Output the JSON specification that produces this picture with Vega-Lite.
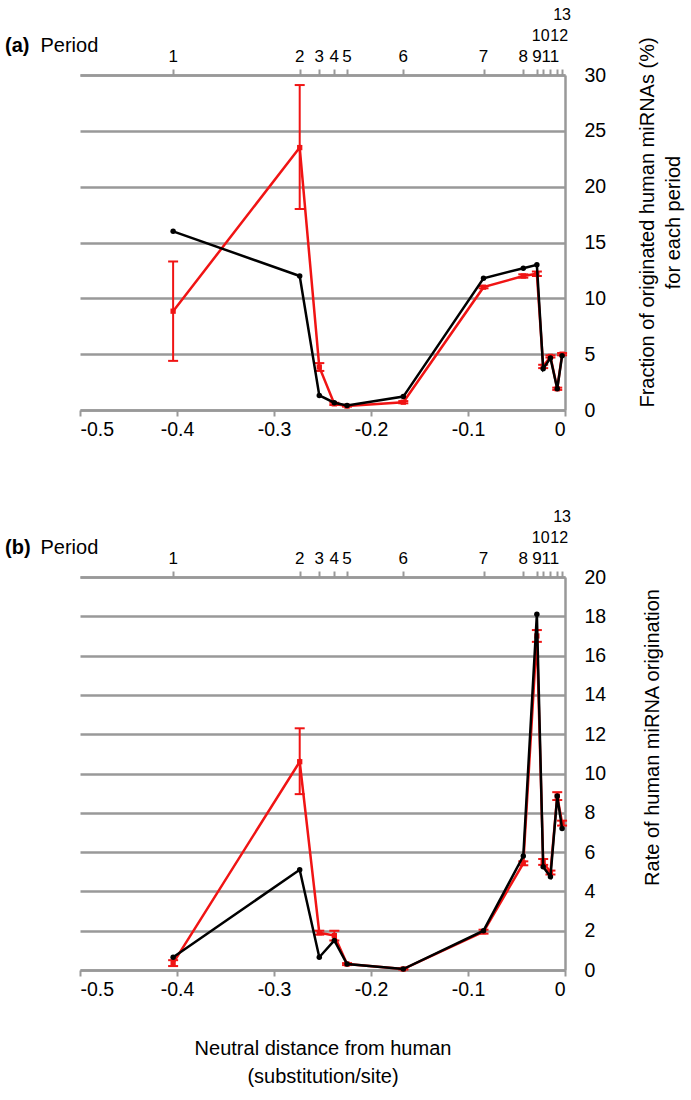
{
  "$schema": "https://vega.github.io/schema/vega-lite/v6.json",
  "background": "white",
  "padding": {"left": 5, "right": 5, "top": 7, "bottom": 5},
  "config": {
    "font": "Liberation Sans",
    "view": {"stroke": null},
    "axis": {
      "domainColor": "#999999", "domainWidth": 2.5,
      "tickColor": "#999999", "tickWidth": 2,
      "gridColor": "#999999", "gridWidth": 2.5,
      "labelFont": "Liberation Sans", "labelFontSize": 19.5, "labelColor": "#000000",
      "titleFont": "Liberation Sans", "titleFontSize": 20, "titleFontWeight": "normal", "titleColor": "#000000"
    },
    "text": {"font": "Liberation Sans", "color": "#000000"}
  },
  "datasets": {
    "a": [
      {"period": 1, "dist": -0.404, "line1": 16.0, "line2": 8.85, "line2Lo": 4.4, "line2Hi": 13.3},
      {"period": 2, "dist": -0.2735, "line1": 12.0, "line2": 23.5, "line2Lo": 18.0, "line2Hi": 29.1},
      {"period": 3, "dist": -0.2533, "line1": 1.3, "line2": 3.85, "line2Lo": 3.5, "line2Hi": 4.2},
      {"period": 4, "dist": -0.2378, "line1": 0.65, "line2": 0.55, "line2Lo": 0.45, "line2Hi": 0.65},
      {"period": 5, "dist": -0.2247, "line1": 0.4, "line2": 0.35, "line2Lo": 0.3, "line2Hi": 0.4},
      {"period": 6, "dist": -0.1667, "line1": 1.2, "line2": 0.7, "line2Lo": 0.6, "line2Hi": 0.8},
      {"period": 7, "dist": -0.084, "line1": 11.8, "line2": 11.0, "line2Lo": 10.9, "line2Hi": 11.1},
      {"period": 8, "dist": -0.043, "line1": 12.7, "line2": 12.0, "line2Lo": 11.85, "line2Hi": 12.15},
      {"period": 9, "dist": -0.029, "line1": 13.0, "line2": 12.2, "line2Lo": 12.0, "line2Hi": 12.4},
      {"period": 10, "dist": -0.0225, "line1": 3.7, "line2": 3.9, "line2Lo": 3.75, "line2Hi": 4.05},
      {"period": 11, "dist": -0.015, "line1": 4.65, "line2": 4.8, "line2Lo": 4.7, "line2Hi": 4.9},
      {"period": 12, "dist": -0.008, "line1": 1.9, "line2": 1.9, "line2Lo": 1.8, "line2Hi": 2.0},
      {"period": 13, "dist": -0.003, "line1": 4.85, "line2": 5.0, "line2Lo": 4.9, "line2Hi": 5.1}
    ],
    "b": [
      {"period": 1, "dist": -0.404, "line1": 0.65, "line2": 0.35, "line2Lo": 0.2, "line2Hi": 0.5},
      {"period": 2, "dist": -0.2735, "line1": 5.1, "line2": 10.6, "line2Lo": 8.95, "line2Hi": 12.3},
      {"period": 3, "dist": -0.2533, "line1": 0.65, "line2": 1.9, "line2Lo": 1.8, "line2Hi": 2.0},
      {"period": 4, "dist": -0.2378, "line1": 1.5, "line2": 1.75, "line2Lo": 1.5, "line2Hi": 2.0},
      {"period": 5, "dist": -0.2247, "line1": 0.3, "line2": 0.3, "line2Lo": 0.25, "line2Hi": 0.35},
      {"period": 6, "dist": -0.1667, "line1": 0.05, "line2": 0.05, "line2Lo": 0.02, "line2Hi": 0.08},
      {"period": 7, "dist": -0.084, "line1": 2.0, "line2": 1.95, "line2Lo": 1.85, "line2Hi": 2.05},
      {"period": 8, "dist": -0.043, "line1": 5.8, "line2": 5.43, "line2Lo": 5.33, "line2Hi": 5.53},
      {"period": 9, "dist": -0.029, "line1": 18.1, "line2": 17.0, "line2Lo": 16.7, "line2Hi": 17.3},
      {"period": 10, "dist": -0.0225, "line1": 5.25, "line2": 5.5, "line2Lo": 5.35, "line2Hi": 5.65},
      {"period": 11, "dist": -0.015, "line1": 4.74, "line2": 4.96, "line2Lo": 4.86, "line2Hi": 5.06},
      {"period": 12, "dist": -0.008, "line1": 8.85, "line2": 8.85, "line2Lo": 8.65, "line2Hi": 9.05},
      {"period": 13, "dist": -0.003, "line1": 7.2, "line2": 7.48, "line2Lo": 7.35, "line2Hi": 7.6}
    ]
  },
  "spacing": 70,
  "vconcat": [
    {
      "width": 485,
      "height": 335,
      "data": {"name": "a"},
      "title": {"text": "(a)", "anchor": "start", "frame": "group", "fontSize": 20, "fontWeight": "bold", "font": "Liberation Sans", "dx": -75, "dy": 53},
      "resolve": {"axis": {"x": "independent", "y": "independent"}},
      "layer": [
        {
          "mark": {"type": "line", "color": "#f01414", "strokeWidth": 2.5},
          "encoding": {
            "x": {"field": "dist", "type": "quantitative", "scale": {"domain": [-0.5, 0], "nice": false, "zero": false},
              "axis": {"orient": "top", "values": [-0.404, -0.2735, -0.2533, -0.2378, -0.2247, -0.1667, -0.084, -0.043, -0.029, -0.0225, -0.015, -0.008, -0.003],
                "labels": false, "tickSize": 6, "grid": false,
                "title": "Period", "titleAngle": 0, "titleX": -40, "titleY": -24, "titleAlign": "left", "titleBaseline": "alphabetic"}},
            "y": {"field": "line2", "type": "quantitative", "scale": {"domain": [0, 30], "nice": false},
              "axis": {"orient": "right", "values": [0, 5, 10, 15, 20, 25, 30], "grid": true, "ticks": false, "tickSize": 0, "labelAlign": "left", "labelPadding": 19, "labelBaseline": "middle",
                "title": ["Fraction of originated human miRNAs (%)", "for each period"], "titleAngle": 270, "titleBaseline": "top", "titlePadding": 6, "titleLineHeight": 26, "titleY": 147}}
          }
        },
        {
          "mark": {"type": "rule", "color": "#f01414", "strokeWidth": 2},
          "encoding": {
            "x": {"field": "dist", "type": "quantitative", "axis": null},
            "y": {"field": "line2Lo", "type": "quantitative", "axis": null},
            "y2": {"field": "line2Hi"}
          }
        },
        {
          "mark": {"type": "tick", "orient": "horizontal", "color": "#f01414", "size": 10, "thickness": 2, "opacity": 1},
          "encoding": {
            "x": {"field": "dist", "type": "quantitative", "axis": null},
            "y": {"field": "line2Lo", "type": "quantitative", "axis": null}
          }
        },
        {
          "mark": {"type": "tick", "orient": "horizontal", "color": "#f01414", "size": 10, "thickness": 2, "opacity": 1},
          "encoding": {
            "x": {"field": "dist", "type": "quantitative", "axis": null},
            "y": {"field": "line2Hi", "type": "quantitative", "axis": null}
          }
        },
        {
          "mark": {"type": "square", "color": "#f01414", "size": 28, "opacity": 1},
          "encoding": {
            "x": {"field": "dist", "type": "quantitative", "axis": null},
            "y": {"field": "line2", "type": "quantitative", "axis": null}
          }
        },
        {
          "mark": {"type": "line", "color": "#000000", "strokeWidth": 2.5},
          "encoding": {
            "x": {"field": "dist", "type": "quantitative",
              "axis": {"orient": "bottom", "values": [-0.5, -0.4, -0.3, -0.2, -0.1, 0], "labelExpr": "datum.value == 0 ? '0' : '-' + format(abs(datum.value), '.1f')", "tickSize": 6, "labelPadding": 4, "grid": false, "title": null}},
            "y": {"field": "line1", "type": "quantitative", "axis": null}
          }
        },
        {
          "mark": {"type": "circle", "color": "#000000", "size": 30, "opacity": 1},
          "encoding": {
            "x": {"field": "dist", "type": "quantitative", "axis": null},
            "y": {"field": "line1", "type": "quantitative", "axis": null}
          }
        },
        {
          "transform": [{"filter": "indexof([10, 12, 13], datum.period) < 0"}],
          "mark": {"type": "text", "align": "center", "baseline": "alphabetic", "fontSize": 17, "dy": -13},
          "encoding": {
            "x": {"field": "dist", "type": "quantitative", "axis": null},
            "y": {"datum": 30, "type": "quantitative", "axis": null},
            "text": {"field": "period", "type": "nominal"}
          }
        },
        {
          "transform": [{"filter": "datum.period == 10"}],
          "mark": {"type": "text", "align": "center", "baseline": "alphabetic", "fontSize": 16, "dy": -34, "dx": -2.5},
          "encoding": {
            "x": {"field": "dist", "type": "quantitative", "axis": null},
            "y": {"datum": 30, "type": "quantitative", "axis": null},
            "text": {"field": "period", "type": "nominal"}
          }
        },
        {
          "transform": [{"filter": "datum.period == 12"}],
          "mark": {"type": "text", "align": "center", "baseline": "alphabetic", "fontSize": 16, "dy": -34, "dx": 2},
          "encoding": {
            "x": {"field": "dist", "type": "quantitative", "axis": null},
            "y": {"datum": 30, "type": "quantitative", "axis": null},
            "text": {"field": "period", "type": "nominal"}
          }
        },
        {
          "transform": [{"filter": "datum.period == 13"}],
          "mark": {"type": "text", "align": "center", "baseline": "alphabetic", "fontSize": 16, "dy": -55},
          "encoding": {
            "x": {"field": "dist", "type": "quantitative", "axis": null},
            "y": {"datum": 30, "type": "quantitative", "axis": null},
            "text": {"field": "period", "type": "nominal"}
          }
        }
      ]
    },
    {
      "width": 485,
      "height": 393,
      "data": {"name": "b"},
      "title": {"text": "(b)", "anchor": "start", "frame": "group", "fontSize": 20, "fontWeight": "bold", "font": "Liberation Sans", "dx": -75, "dy": 53},
      "resolve": {"axis": {"x": "independent", "y": "independent"}},
      "layer": [
        {
          "mark": {"type": "line", "color": "#f01414", "strokeWidth": 2.5},
          "encoding": {
            "x": {"field": "dist", "type": "quantitative", "scale": {"domain": [-0.5, 0], "nice": false, "zero": false},
              "axis": {"orient": "top", "values": [-0.404, -0.2735, -0.2533, -0.2378, -0.2247, -0.1667, -0.084, -0.043, -0.029, -0.0225, -0.015, -0.008, -0.003],
                "labels": false, "tickSize": 6, "grid": false,
                "title": "Period", "titleAngle": 0, "titleX": -40, "titleY": -24, "titleAlign": "left", "titleBaseline": "alphabetic"}},
            "y": {"field": "line2", "type": "quantitative", "scale": {"domain": [0, 20], "nice": false},
              "axis": {"orient": "right", "values": [0, 2, 4, 6, 8, 10, 12, 14, 16, 18, 20], "grid": true, "ticks": false, "tickSize": 0, "labelAlign": "left", "labelPadding": 19, "labelBaseline": "middle",
                "title": "Rate of human miRNA origination", "titleAngle": 270, "titleBaseline": "top", "titlePadding": 37, "titleY": 160}}
          }
        },
        {
          "mark": {"type": "rule", "color": "#f01414", "strokeWidth": 2},
          "encoding": {
            "x": {"field": "dist", "type": "quantitative", "axis": null},
            "y": {"field": "line2Lo", "type": "quantitative", "axis": null},
            "y2": {"field": "line2Hi"}
          }
        },
        {
          "mark": {"type": "tick", "orient": "horizontal", "color": "#f01414", "size": 10, "thickness": 2, "opacity": 1},
          "encoding": {
            "x": {"field": "dist", "type": "quantitative", "axis": null},
            "y": {"field": "line2Lo", "type": "quantitative", "axis": null}
          }
        },
        {
          "mark": {"type": "tick", "orient": "horizontal", "color": "#f01414", "size": 10, "thickness": 2, "opacity": 1},
          "encoding": {
            "x": {"field": "dist", "type": "quantitative", "axis": null},
            "y": {"field": "line2Hi", "type": "quantitative", "axis": null}
          }
        },
        {
          "mark": {"type": "square", "color": "#f01414", "size": 28, "opacity": 1},
          "encoding": {
            "x": {"field": "dist", "type": "quantitative", "axis": null},
            "y": {"field": "line2", "type": "quantitative", "axis": null}
          }
        },
        {
          "mark": {"type": "line", "color": "#000000", "strokeWidth": 2.5},
          "encoding": {
            "x": {"field": "dist", "type": "quantitative",
              "axis": {"orient": "bottom", "values": [-0.5, -0.4, -0.3, -0.2, -0.1, 0], "labelExpr": "datum.value == 0 ? '0' : '-' + format(abs(datum.value), '.1f')", "tickSize": 6, "labelPadding": 4, "grid": false,
                "title": ["Neutral distance from human", "(substitution/site)"], "titlePadding": 40, "titleLineHeight": 28}},
            "y": {"field": "line1", "type": "quantitative", "axis": null}
          }
        },
        {
          "mark": {"type": "circle", "color": "#000000", "size": 30, "opacity": 1},
          "encoding": {
            "x": {"field": "dist", "type": "quantitative", "axis": null},
            "y": {"field": "line1", "type": "quantitative", "axis": null}
          }
        },
        {
          "transform": [{"filter": "indexof([10, 12, 13], datum.period) < 0"}],
          "mark": {"type": "text", "align": "center", "baseline": "alphabetic", "fontSize": 17, "dy": -13},
          "encoding": {
            "x": {"field": "dist", "type": "quantitative", "axis": null},
            "y": {"datum": 20, "type": "quantitative", "axis": null},
            "text": {"field": "period", "type": "nominal"}
          }
        },
        {
          "transform": [{"filter": "datum.period == 10"}],
          "mark": {"type": "text", "align": "center", "baseline": "alphabetic", "fontSize": 16, "dy": -34, "dx": -2.5},
          "encoding": {
            "x": {"field": "dist", "type": "quantitative", "axis": null},
            "y": {"datum": 20, "type": "quantitative", "axis": null},
            "text": {"field": "period", "type": "nominal"}
          }
        },
        {
          "transform": [{"filter": "datum.period == 12"}],
          "mark": {"type": "text", "align": "center", "baseline": "alphabetic", "fontSize": 16, "dy": -34, "dx": 2},
          "encoding": {
            "x": {"field": "dist", "type": "quantitative", "axis": null},
            "y": {"datum": 20, "type": "quantitative", "axis": null},
            "text": {"field": "period", "type": "nominal"}
          }
        },
        {
          "transform": [{"filter": "datum.period == 13"}],
          "mark": {"type": "text", "align": "center", "baseline": "alphabetic", "fontSize": 16, "dy": -55},
          "encoding": {
            "x": {"field": "dist", "type": "quantitative", "axis": null},
            "y": {"datum": 20, "type": "quantitative", "axis": null},
            "text": {"field": "period", "type": "nominal"}
          }
        }
      ]
    }
  ]
}
